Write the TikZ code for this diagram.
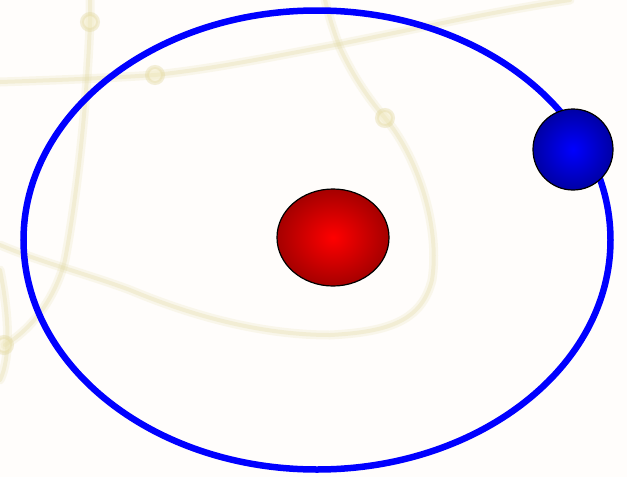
\documentclass[tikz,border=0pt]{standalone}
\usetikzlibrary{shapes.geometric}
\definecolor{bgpaper}{RGB}{255,253,251}
\definecolor{mapline}{RGB}{228,220,168}
\definecolor{mapnodedraw}{RGB}{226,216,160}
\definecolor{mapnodefill}{RGB}{240,232,185}
\definecolor{orbitblue}{RGB}{0,0,255}
\definecolor{sunin}{RGB}{255,0,0}
\definecolor{sunout}{RGB}{165,0,0}
\definecolor{planetin}{RGB}{0,0,255}
\definecolor{planetout}{RGB}{0,0,165}
\begin{document}
\begin{tikzpicture}[x=1pt,y=-1pt,
  bgline/.style={draw=mapline,line cap=round,line join=round},
  bgnode/.style={circle,draw=mapnodedraw,fill=mapnodefill,line width=4pt,minimum size=16pt,inner sep=0pt,opacity=0.4},
  orbit/.style={draw=orbitblue,line width=6.5pt},
  ball/.style={ellipse,draw=black,line width=1.2pt,inner sep=0pt},
  mappaths/.pic={
    \draw (0,82) .. controls (60,80) and (110,78) .. (155,75) .. controls (220,68) and (280,55) .. (335,45) .. controls (420,28) and (490,12) .. (570,0);
    \draw (90,0) -- (90,22) .. controls (88,80) and (80,180) .. (65,260) .. controls (55,300) and (30,330) .. (5,345);
    \draw (325,0) .. controls (330,20) and (335,35) .. (340,48) .. controls (355,80) and (370,100) .. (385,118) .. controls (420,160) and (440,230) .. (432,280) .. controls (422,320) and (390,332) .. (330,335) .. controls (260,335) and (190,315) .. (130,290) .. controls (90,275) and (40,262) .. (0,245);
    \draw (0,270) .. controls (10,320) and (10,360) .. (0,380);
  }]
\useasboundingbox (0,0) rectangle (627,477);
\fill[bgpaper] (0,0) rectangle (627,477);
% faint background map
\begin{scope}[bgline,line width=9pt,opacity=0.2]
\pic {mappaths};
\end{scope}
\begin{scope}[bgline,line width=4pt,opacity=0.32]
\pic {mappaths};
\end{scope}
\node[bgnode] (m1) at (90,22) {};
\node[bgnode] (m2) at (155,75) {};
\node[bgnode] (m3) at (385,118) {};
\node[bgnode] (m4) at (4,345) {};
% orbit
\draw[orbit] (317,240) ellipse [x radius=293.5, y radius=229.5];
% sun
\node[ball,minimum width=112pt,minimum height=97pt,
  inner color=sunin,outer color=sunout] (sun) at (333,237.5) {};
% planet
\node[ball,minimum width=80pt,minimum height=81pt,
  inner color=planetin,outer color=planetout] (planet) at (573,149.5) {};
\end{tikzpicture}
\end{document}
